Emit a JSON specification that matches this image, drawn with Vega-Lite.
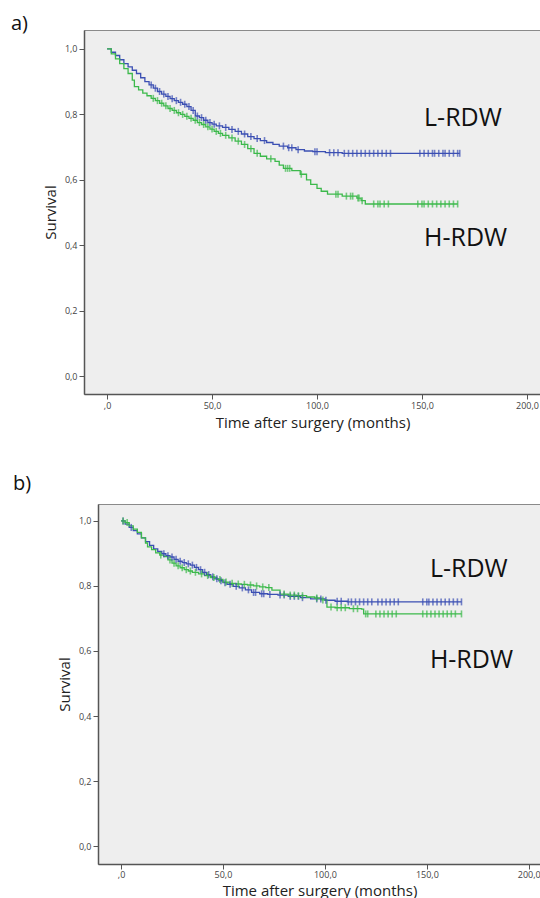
{
 "$schema": "https://vega.github.io/schema/vega-lite/v6.json",
 "padding": {"left": 10, "top": 13, "right": 0, "bottom": 0},
 "background": "white",
 "config": {
  "view": {"fill": "#eeeeee", "stroke": "#8a8a8a", "strokeWidth": 1},
  "font": "Open Sans",
  "axis": {"grid": false, "domainColor": "#555555", "domainWidth": 1.5, "tickColor": "#555555", "tickSize": 5, "labelFontSize": 9, "labelColor": "#444444", "labelFont": "Open Sans", "titleFont": "Open Sans", "titleFontWeight": "normal", "titleFontSize": 15, "titleColor": "#222222", "labelPadding": 2},
  "title": {"fontSize": 20, "fontWeight": "normal", "anchor": "start", "frame": "group", "color": "#111111", "font": "Open Sans"}
 },
 "spacing": 42,
 "datasets": {
  "km": [
   {"p":"a","g":"L-RDW","t":0,"s":1,"c":0},{"p":"a","g":"L-RDW","t":2,"s":0.99,"c":0},{"p":"a","g":"L-RDW","t":4,"s":0.98,"c":0},{"p":"a","g":"L-RDW","t":6,"s":0.967,"c":0},{"p":"a","g":"L-RDW","t":8,"s":0.955,"c":0},{"p":"a","g":"L-RDW","t":10,"s":0.945,"c":0},{"p":"a","g":"L-RDW","t":12,"s":0.935,"c":0},{"p":"a","g":"L-RDW","t":14,"s":0.925,"c":0},{"p":"a","g":"L-RDW","t":16,"s":0.912,"c":0},{"p":"a","g":"L-RDW","t":18,"s":0.9,"c":0},{"p":"a","g":"L-RDW","t":20,"s":0.89,"c":0},{"p":"a","g":"L-RDW","t":21,"s":0.89,"c":1},{"p":"a","g":"L-RDW","t":22,"s":0.88,"c":0},{"p":"a","g":"L-RDW","t":23,"s":0.88,"c":1},{"p":"a","g":"L-RDW","t":24,"s":0.87,"c":0},{"p":"a","g":"L-RDW","t":25,"s":0.87,"c":1},{"p":"a","g":"L-RDW","t":26,"s":0.862,"c":0},{"p":"a","g":"L-RDW","t":27,"s":0.862,"c":1},{"p":"a","g":"L-RDW","t":28,"s":0.855,"c":0},{"p":"a","g":"L-RDW","t":29,"s":0.855,"c":1},{"p":"a","g":"L-RDW","t":30,"s":0.848,"c":0},{"p":"a","g":"L-RDW","t":31,"s":0.848,"c":1},{"p":"a","g":"L-RDW","t":32,"s":0.842,"c":0},{"p":"a","g":"L-RDW","t":33,"s":0.842,"c":1},{"p":"a","g":"L-RDW","t":34,"s":0.837,"c":0},{"p":"a","g":"L-RDW","t":35,"s":0.837,"c":1},{"p":"a","g":"L-RDW","t":36,"s":0.831,"c":0},{"p":"a","g":"L-RDW","t":37,"s":0.831,"c":1},{"p":"a","g":"L-RDW","t":38,"s":0.824,"c":0},{"p":"a","g":"L-RDW","t":39,"s":0.824,"c":1},{"p":"a","g":"L-RDW","t":40,"s":0.812,"c":0},{"p":"a","g":"L-RDW","t":41,"s":0.812,"c":1},{"p":"a","g":"L-RDW","t":42,"s":0.795,"c":0},{"p":"a","g":"L-RDW","t":43,"s":0.795,"c":1},{"p":"a","g":"L-RDW","t":44,"s":0.79,"c":0},{"p":"a","g":"L-RDW","t":45,"s":0.79,"c":1},{"p":"a","g":"L-RDW","t":46,"s":0.782,"c":0},{"p":"a","g":"L-RDW","t":47,"s":0.782,"c":1},{"p":"a","g":"L-RDW","t":48,"s":0.775,"c":0},{"p":"a","g":"L-RDW","t":49,"s":0.775,"c":1},{"p":"a","g":"L-RDW","t":50,"s":0.77,"c":0},{"p":"a","g":"L-RDW","t":51,"s":0.77,"c":1},{"p":"a","g":"L-RDW","t":52,"s":0.765,"c":0},{"p":"a","g":"L-RDW","t":53.5,"s":0.765,"c":1},{"p":"a","g":"L-RDW","t":55,"s":0.76,"c":0},{"p":"a","g":"L-RDW","t":56.5,"s":0.76,"c":1},{"p":"a","g":"L-RDW","t":58,"s":0.754,"c":0},{"p":"a","g":"L-RDW","t":59.5,"s":0.754,"c":1},{"p":"a","g":"L-RDW","t":61,"s":0.748,"c":0},{"p":"a","g":"L-RDW","t":62.5,"s":0.748,"c":1},{"p":"a","g":"L-RDW","t":64,"s":0.74,"c":0},{"p":"a","g":"L-RDW","t":65.5,"s":0.74,"c":1},{"p":"a","g":"L-RDW","t":67,"s":0.732,"c":0},{"p":"a","g":"L-RDW","t":68.5,"s":0.732,"c":1},{"p":"a","g":"L-RDW","t":70,"s":0.726,"c":0},{"p":"a","g":"L-RDW","t":71.5,"s":0.726,"c":1},{"p":"a","g":"L-RDW","t":73,"s":0.72,"c":0},{"p":"a","g":"L-RDW","t":75,"s":0.72,"c":1},{"p":"a","g":"L-RDW","t":76,"s":0.714,"c":0},{"p":"a","g":"L-RDW","t":79,"s":0.708,"c":0},{"p":"a","g":"L-RDW","t":82,"s":0.703,"c":0},{"p":"a","g":"L-RDW","t":84,"s":0.703,"c":1},{"p":"a","g":"L-RDW","t":86,"s":0.698,"c":0},{"p":"a","g":"L-RDW","t":86.5,"s":0.698,"c":1},{"p":"a","g":"L-RDW","t":88,"s":0.698,"c":1},{"p":"a","g":"L-RDW","t":90,"s":0.692,"c":0},{"p":"a","g":"L-RDW","t":91,"s":0.692,"c":1},{"p":"a","g":"L-RDW","t":94,"s":0.688,"c":0},{"p":"a","g":"L-RDW","t":98,"s":0.686,"c":0},{"p":"a","g":"L-RDW","t":99,"s":0.686,"c":1},{"p":"a","g":"L-RDW","t":100,"s":0.686,"c":1},{"p":"a","g":"L-RDW","t":104,"s":0.683,"c":0},{"p":"a","g":"L-RDW","t":106,"s":0.683,"c":1},{"p":"a","g":"L-RDW","t":108,"s":0.683,"c":1},{"p":"a","g":"L-RDW","t":110,"s":0.683,"c":1},{"p":"a","g":"L-RDW","t":112,"s":0.681,"c":0},{"p":"a","g":"L-RDW","t":113,"s":0.681,"c":1},{"p":"a","g":"L-RDW","t":115,"s":0.681,"c":1},{"p":"a","g":"L-RDW","t":117,"s":0.681,"c":1},{"p":"a","g":"L-RDW","t":119,"s":0.681,"c":1},{"p":"a","g":"L-RDW","t":121,"s":0.681,"c":1},{"p":"a","g":"L-RDW","t":123,"s":0.681,"c":1},{"p":"a","g":"L-RDW","t":125,"s":0.681,"c":1},{"p":"a","g":"L-RDW","t":127,"s":0.681,"c":1},{"p":"a","g":"L-RDW","t":129,"s":0.681,"c":1},{"p":"a","g":"L-RDW","t":131,"s":0.681,"c":1},{"p":"a","g":"L-RDW","t":133,"s":0.681,"c":1},{"p":"a","g":"L-RDW","t":135,"s":0.681,"c":1},{"p":"a","g":"L-RDW","t":149,"s":0.681,"c":1},{"p":"a","g":"L-RDW","t":151,"s":0.681,"c":1},{"p":"a","g":"L-RDW","t":153,"s":0.681,"c":1},{"p":"a","g":"L-RDW","t":155,"s":0.681,"c":1},{"p":"a","g":"L-RDW","t":156,"s":0.681,"c":1},{"p":"a","g":"L-RDW","t":158,"s":0.681,"c":1},{"p":"a","g":"L-RDW","t":160,"s":0.681,"c":1},{"p":"a","g":"L-RDW","t":161,"s":0.681,"c":1},{"p":"a","g":"L-RDW","t":163,"s":0.681,"c":1},{"p":"a","g":"L-RDW","t":165,"s":0.681,"c":1},{"p":"a","g":"L-RDW","t":167,"s":0.681,"c":1},{"p":"a","g":"L-RDW","t":168,"s":0.681,"c":1},
   {"p":"a","g":"H-RDW","t":0,"s":1,"c":0},{"p":"a","g":"H-RDW","t":2,"s":0.985,"c":0},{"p":"a","g":"H-RDW","t":4,"s":0.97,"c":0},{"p":"a","g":"H-RDW","t":6,"s":0.955,"c":0},{"p":"a","g":"H-RDW","t":8,"s":0.94,"c":0},{"p":"a","g":"H-RDW","t":10,"s":0.925,"c":0},{"p":"a","g":"H-RDW","t":12,"s":0.905,"c":0},{"p":"a","g":"H-RDW","t":13,"s":0.885,"c":0},{"p":"a","g":"H-RDW","t":15,"s":0.875,"c":0},{"p":"a","g":"H-RDW","t":17,"s":0.865,"c":0},{"p":"a","g":"H-RDW","t":19,"s":0.857,"c":0},{"p":"a","g":"H-RDW","t":21,"s":0.849,"c":0},{"p":"a","g":"H-RDW","t":22,"s":0.849,"c":1},{"p":"a","g":"H-RDW","t":23,"s":0.842,"c":0},{"p":"a","g":"H-RDW","t":24,"s":0.842,"c":1},{"p":"a","g":"H-RDW","t":25,"s":0.834,"c":0},{"p":"a","g":"H-RDW","t":26,"s":0.834,"c":1},{"p":"a","g":"H-RDW","t":27,"s":0.826,"c":0},{"p":"a","g":"H-RDW","t":28,"s":0.826,"c":1},{"p":"a","g":"H-RDW","t":29,"s":0.818,"c":0},{"p":"a","g":"H-RDW","t":30,"s":0.818,"c":1},{"p":"a","g":"H-RDW","t":31,"s":0.812,"c":0},{"p":"a","g":"H-RDW","t":32,"s":0.812,"c":1},{"p":"a","g":"H-RDW","t":33,"s":0.805,"c":0},{"p":"a","g":"H-RDW","t":34,"s":0.805,"c":1},{"p":"a","g":"H-RDW","t":35,"s":0.8,"c":0},{"p":"a","g":"H-RDW","t":36,"s":0.8,"c":1},{"p":"a","g":"H-RDW","t":37,"s":0.794,"c":0},{"p":"a","g":"H-RDW","t":38,"s":0.794,"c":1},{"p":"a","g":"H-RDW","t":39,"s":0.788,"c":0},{"p":"a","g":"H-RDW","t":40,"s":0.788,"c":1},{"p":"a","g":"H-RDW","t":41,"s":0.782,"c":0},{"p":"a","g":"H-RDW","t":42,"s":0.782,"c":1},{"p":"a","g":"H-RDW","t":43,"s":0.775,"c":0},{"p":"a","g":"H-RDW","t":44,"s":0.775,"c":1},{"p":"a","g":"H-RDW","t":45,"s":0.769,"c":0},{"p":"a","g":"H-RDW","t":46,"s":0.769,"c":1},{"p":"a","g":"H-RDW","t":47,"s":0.762,"c":0},{"p":"a","g":"H-RDW","t":48,"s":0.762,"c":1},{"p":"a","g":"H-RDW","t":49,"s":0.755,"c":0},{"p":"a","g":"H-RDW","t":50,"s":0.755,"c":1},{"p":"a","g":"H-RDW","t":51,"s":0.748,"c":0},{"p":"a","g":"H-RDW","t":52,"s":0.748,"c":1},{"p":"a","g":"H-RDW","t":53,"s":0.742,"c":0},{"p":"a","g":"H-RDW","t":54,"s":0.742,"c":1},{"p":"a","g":"H-RDW","t":55,"s":0.736,"c":0},{"p":"a","g":"H-RDW","t":56.5,"s":0.736,"c":1},{"p":"a","g":"H-RDW","t":58,"s":0.728,"c":0},{"p":"a","g":"H-RDW","t":59.5,"s":0.728,"c":1},{"p":"a","g":"H-RDW","t":61,"s":0.718,"c":0},{"p":"a","g":"H-RDW","t":62.5,"s":0.718,"c":1},{"p":"a","g":"H-RDW","t":64,"s":0.708,"c":0},{"p":"a","g":"H-RDW","t":65.5,"s":0.708,"c":1},{"p":"a","g":"H-RDW","t":67,"s":0.695,"c":0},{"p":"a","g":"H-RDW","t":68.5,"s":0.695,"c":1},{"p":"a","g":"H-RDW","t":70,"s":0.681,"c":0},{"p":"a","g":"H-RDW","t":71.5,"s":0.681,"c":1},{"p":"a","g":"H-RDW","t":73,"s":0.672,"c":0},{"p":"a","g":"H-RDW","t":76,"s":0.664,"c":0},{"p":"a","g":"H-RDW","t":78,"s":0.664,"c":1},{"p":"a","g":"H-RDW","t":80,"s":0.656,"c":0},{"p":"a","g":"H-RDW","t":82,"s":0.645,"c":0},{"p":"a","g":"H-RDW","t":84,"s":0.635,"c":0},{"p":"a","g":"H-RDW","t":85,"s":0.635,"c":1},{"p":"a","g":"H-RDW","t":86,"s":0.635,"c":1},{"p":"a","g":"H-RDW","t":87,"s":0.635,"c":1},{"p":"a","g":"H-RDW","t":88,"s":0.628,"c":0},{"p":"a","g":"H-RDW","t":92,"s":0.617,"c":0},{"p":"a","g":"H-RDW","t":92.5,"s":0.617,"c":1},{"p":"a","g":"H-RDW","t":95,"s":0.6,"c":0},{"p":"a","g":"H-RDW","t":97,"s":0.586,"c":0},{"p":"a","g":"H-RDW","t":100,"s":0.574,"c":0},{"p":"a","g":"H-RDW","t":102,"s":0.565,"c":0},{"p":"a","g":"H-RDW","t":105,"s":0.556,"c":0},{"p":"a","g":"H-RDW","t":109,"s":0.556,"c":1},{"p":"a","g":"H-RDW","t":110,"s":0.556,"c":1},{"p":"a","g":"H-RDW","t":112,"s":0.55,"c":0},{"p":"a","g":"H-RDW","t":114,"s":0.55,"c":1},{"p":"a","g":"H-RDW","t":116,"s":0.55,"c":1},{"p":"a","g":"H-RDW","t":117,"s":0.55,"c":1},{"p":"a","g":"H-RDW","t":119,"s":0.544,"c":0},{"p":"a","g":"H-RDW","t":119.5,"s":0.544,"c":1},{"p":"a","g":"H-RDW","t":120,"s":0.544,"c":1},{"p":"a","g":"H-RDW","t":121,"s":0.536,"c":0},{"p":"a","g":"H-RDW","t":121.5,"s":0.536,"c":1},{"p":"a","g":"H-RDW","t":123,"s":0.526,"c":0},{"p":"a","g":"H-RDW","t":127,"s":0.526,"c":1},{"p":"a","g":"H-RDW","t":129,"s":0.526,"c":1},{"p":"a","g":"H-RDW","t":130,"s":0.526,"c":1},{"p":"a","g":"H-RDW","t":132,"s":0.526,"c":1},{"p":"a","g":"H-RDW","t":134,"s":0.526,"c":1},{"p":"a","g":"H-RDW","t":148,"s":0.526,"c":1},{"p":"a","g":"H-RDW","t":150,"s":0.526,"c":1},{"p":"a","g":"H-RDW","t":151,"s":0.526,"c":1},{"p":"a","g":"H-RDW","t":153,"s":0.526,"c":1},{"p":"a","g":"H-RDW","t":155,"s":0.526,"c":1},{"p":"a","g":"H-RDW","t":157,"s":0.526,"c":1},{"p":"a","g":"H-RDW","t":159,"s":0.526,"c":1},{"p":"a","g":"H-RDW","t":161,"s":0.526,"c":1},{"p":"a","g":"H-RDW","t":163,"s":0.526,"c":1},{"p":"a","g":"H-RDW","t":165,"s":0.526,"c":1},{"p":"a","g":"H-RDW","t":167,"s":0.526,"c":1},
   {"p":"b","g":"L-RDW","t":0,"s":1,"c":0},{"p":"b","g":"L-RDW","t":1,"s":1,"c":1},{"p":"b","g":"L-RDW","t":2,"s":0.99,"c":0},{"p":"b","g":"L-RDW","t":4,"s":0.98,"c":0},{"p":"b","g":"L-RDW","t":5,"s":0.98,"c":1},{"p":"b","g":"L-RDW","t":6,"s":0.97,"c":0},{"p":"b","g":"L-RDW","t":8,"s":0.96,"c":0},{"p":"b","g":"L-RDW","t":10,"s":0.948,"c":0},{"p":"b","g":"L-RDW","t":12,"s":0.936,"c":0},{"p":"b","g":"L-RDW","t":14,"s":0.925,"c":0},{"p":"b","g":"L-RDW","t":16,"s":0.914,"c":0},{"p":"b","g":"L-RDW","t":18,"s":0.906,"c":0},{"p":"b","g":"L-RDW","t":20,"s":0.899,"c":0},{"p":"b","g":"L-RDW","t":21,"s":0.899,"c":1},{"p":"b","g":"L-RDW","t":22,"s":0.893,"c":0},{"p":"b","g":"L-RDW","t":23,"s":0.893,"c":1},{"p":"b","g":"L-RDW","t":24,"s":0.889,"c":0},{"p":"b","g":"L-RDW","t":25,"s":0.889,"c":1},{"p":"b","g":"L-RDW","t":26,"s":0.882,"c":0},{"p":"b","g":"L-RDW","t":27,"s":0.882,"c":1},{"p":"b","g":"L-RDW","t":28,"s":0.876,"c":0},{"p":"b","g":"L-RDW","t":29,"s":0.876,"c":1},{"p":"b","g":"L-RDW","t":30,"s":0.872,"c":0},{"p":"b","g":"L-RDW","t":31,"s":0.872,"c":1},{"p":"b","g":"L-RDW","t":32,"s":0.868,"c":0},{"p":"b","g":"L-RDW","t":33,"s":0.868,"c":1},{"p":"b","g":"L-RDW","t":34,"s":0.864,"c":0},{"p":"b","g":"L-RDW","t":35,"s":0.864,"c":1},{"p":"b","g":"L-RDW","t":36,"s":0.857,"c":0},{"p":"b","g":"L-RDW","t":37,"s":0.857,"c":1},{"p":"b","g":"L-RDW","t":38,"s":0.85,"c":0},{"p":"b","g":"L-RDW","t":39,"s":0.85,"c":1},{"p":"b","g":"L-RDW","t":40,"s":0.842,"c":0},{"p":"b","g":"L-RDW","t":41,"s":0.842,"c":1},{"p":"b","g":"L-RDW","t":42,"s":0.835,"c":0},{"p":"b","g":"L-RDW","t":43,"s":0.835,"c":1},{"p":"b","g":"L-RDW","t":44,"s":0.828,"c":0},{"p":"b","g":"L-RDW","t":45,"s":0.828,"c":1},{"p":"b","g":"L-RDW","t":46,"s":0.822,"c":0},{"p":"b","g":"L-RDW","t":47,"s":0.822,"c":1},{"p":"b","g":"L-RDW","t":48,"s":0.816,"c":0},{"p":"b","g":"L-RDW","t":49,"s":0.816,"c":1},{"p":"b","g":"L-RDW","t":50,"s":0.81,"c":0},{"p":"b","g":"L-RDW","t":51,"s":0.81,"c":1},{"p":"b","g":"L-RDW","t":52,"s":0.805,"c":0},{"p":"b","g":"L-RDW","t":53.5,"s":0.805,"c":1},{"p":"b","g":"L-RDW","t":55,"s":0.799,"c":0},{"p":"b","g":"L-RDW","t":56.5,"s":0.799,"c":1},{"p":"b","g":"L-RDW","t":58,"s":0.794,"c":0},{"p":"b","g":"L-RDW","t":59.5,"s":0.794,"c":1},{"p":"b","g":"L-RDW","t":61,"s":0.788,"c":0},{"p":"b","g":"L-RDW","t":62.5,"s":0.788,"c":1},{"p":"b","g":"L-RDW","t":64,"s":0.78,"c":0},{"p":"b","g":"L-RDW","t":65,"s":0.78,"c":1},{"p":"b","g":"L-RDW","t":66,"s":0.78,"c":1},{"p":"b","g":"L-RDW","t":68,"s":0.776,"c":0},{"p":"b","g":"L-RDW","t":69,"s":0.776,"c":1},{"p":"b","g":"L-RDW","t":70,"s":0.776,"c":1},{"p":"b","g":"L-RDW","t":72,"s":0.774,"c":0},{"p":"b","g":"L-RDW","t":73,"s":0.774,"c":1},{"p":"b","g":"L-RDW","t":77,"s":0.772,"c":0},{"p":"b","g":"L-RDW","t":78,"s":0.772,"c":1},{"p":"b","g":"L-RDW","t":80,"s":0.772,"c":1},{"p":"b","g":"L-RDW","t":82,"s":0.768,"c":0},{"p":"b","g":"L-RDW","t":83,"s":0.768,"c":1},{"p":"b","g":"L-RDW","t":85,"s":0.768,"c":1},{"p":"b","g":"L-RDW","t":87,"s":0.768,"c":1},{"p":"b","g":"L-RDW","t":88,"s":0.764,"c":0},{"p":"b","g":"L-RDW","t":89,"s":0.764,"c":1},{"p":"b","g":"L-RDW","t":93,"s":0.76,"c":0},{"p":"b","g":"L-RDW","t":96,"s":0.76,"c":1},{"p":"b","g":"L-RDW","t":98,"s":0.76,"c":1},{"p":"b","g":"L-RDW","t":100,"s":0.756,"c":0},{"p":"b","g":"L-RDW","t":100.5,"s":0.756,"c":1},{"p":"b","g":"L-RDW","t":105,"s":0.753,"c":0},{"p":"b","g":"L-RDW","t":106,"s":0.753,"c":1},{"p":"b","g":"L-RDW","t":108,"s":0.753,"c":1},{"p":"b","g":"L-RDW","t":111,"s":0.751,"c":0},{"p":"b","g":"L-RDW","t":111.5,"s":0.751,"c":1},{"p":"b","g":"L-RDW","t":113,"s":0.751,"c":1},{"p":"b","g":"L-RDW","t":115,"s":0.751,"c":1},{"p":"b","g":"L-RDW","t":117,"s":0.751,"c":1},{"p":"b","g":"L-RDW","t":119,"s":0.751,"c":1},{"p":"b","g":"L-RDW","t":121,"s":0.751,"c":1},{"p":"b","g":"L-RDW","t":123,"s":0.751,"c":1},{"p":"b","g":"L-RDW","t":126,"s":0.751,"c":1},{"p":"b","g":"L-RDW","t":128,"s":0.751,"c":1},{"p":"b","g":"L-RDW","t":130,"s":0.751,"c":1},{"p":"b","g":"L-RDW","t":132,"s":0.751,"c":1},{"p":"b","g":"L-RDW","t":134,"s":0.751,"c":1},{"p":"b","g":"L-RDW","t":136,"s":0.751,"c":1},{"p":"b","g":"L-RDW","t":148,"s":0.751,"c":1},{"p":"b","g":"L-RDW","t":150,"s":0.751,"c":1},{"p":"b","g":"L-RDW","t":151,"s":0.751,"c":1},{"p":"b","g":"L-RDW","t":153,"s":0.751,"c":1},{"p":"b","g":"L-RDW","t":155,"s":0.751,"c":1},{"p":"b","g":"L-RDW","t":157,"s":0.751,"c":1},{"p":"b","g":"L-RDW","t":159,"s":0.751,"c":1},{"p":"b","g":"L-RDW","t":161,"s":0.751,"c":1},{"p":"b","g":"L-RDW","t":163,"s":0.751,"c":1},{"p":"b","g":"L-RDW","t":165,"s":0.751,"c":1},{"p":"b","g":"L-RDW","t":167,"s":0.751,"c":1},
   {"p":"b","g":"H-RDW","t":0,"s":1,"c":0},{"p":"b","g":"H-RDW","t":1,"s":1,"c":1},{"p":"b","g":"H-RDW","t":2,"s":0.995,"c":0},{"p":"b","g":"H-RDW","t":3,"s":0.995,"c":1},{"p":"b","g":"H-RDW","t":4,"s":0.985,"c":0},{"p":"b","g":"H-RDW","t":6,"s":0.975,"c":0},{"p":"b","g":"H-RDW","t":8,"s":0.965,"c":0},{"p":"b","g":"H-RDW","t":10,"s":0.948,"c":0},{"p":"b","g":"H-RDW","t":12,"s":0.932,"c":0},{"p":"b","g":"H-RDW","t":13,"s":0.92,"c":0},{"p":"b","g":"H-RDW","t":15,"s":0.912,"c":0},{"p":"b","g":"H-RDW","t":17,"s":0.902,"c":0},{"p":"b","g":"H-RDW","t":19,"s":0.895,"c":0},{"p":"b","g":"H-RDW","t":19.5,"s":0.895,"c":1},{"p":"b","g":"H-RDW","t":21,"s":0.89,"c":0},{"p":"b","g":"H-RDW","t":23,"s":0.88,"c":0},{"p":"b","g":"H-RDW","t":24,"s":0.88,"c":1},{"p":"b","g":"H-RDW","t":25,"s":0.87,"c":0},{"p":"b","g":"H-RDW","t":26,"s":0.87,"c":1},{"p":"b","g":"H-RDW","t":27,"s":0.862,"c":0},{"p":"b","g":"H-RDW","t":28,"s":0.862,"c":1},{"p":"b","g":"H-RDW","t":29,"s":0.856,"c":0},{"p":"b","g":"H-RDW","t":30,"s":0.856,"c":1},{"p":"b","g":"H-RDW","t":31,"s":0.85,"c":0},{"p":"b","g":"H-RDW","t":32,"s":0.85,"c":1},{"p":"b","g":"H-RDW","t":33,"s":0.846,"c":0},{"p":"b","g":"H-RDW","t":34,"s":0.846,"c":1},{"p":"b","g":"H-RDW","t":35,"s":0.842,"c":0},{"p":"b","g":"H-RDW","t":36.5,"s":0.842,"c":1},{"p":"b","g":"H-RDW","t":38,"s":0.837,"c":0},{"p":"b","g":"H-RDW","t":39.5,"s":0.837,"c":1},{"p":"b","g":"H-RDW","t":41,"s":0.832,"c":0},{"p":"b","g":"H-RDW","t":42.5,"s":0.832,"c":1},{"p":"b","g":"H-RDW","t":44,"s":0.826,"c":0},{"p":"b","g":"H-RDW","t":45.5,"s":0.826,"c":1},{"p":"b","g":"H-RDW","t":47,"s":0.82,"c":0},{"p":"b","g":"H-RDW","t":48.5,"s":0.82,"c":1},{"p":"b","g":"H-RDW","t":50,"s":0.812,"c":0},{"p":"b","g":"H-RDW","t":51.5,"s":0.812,"c":1},{"p":"b","g":"H-RDW","t":53,"s":0.808,"c":0},{"p":"b","g":"H-RDW","t":54.5,"s":0.808,"c":1},{"p":"b","g":"H-RDW","t":56,"s":0.806,"c":0},{"p":"b","g":"H-RDW","t":57.5,"s":0.806,"c":1},{"p":"b","g":"H-RDW","t":59,"s":0.805,"c":0},{"p":"b","g":"H-RDW","t":60.5,"s":0.805,"c":1},{"p":"b","g":"H-RDW","t":62,"s":0.803,"c":0},{"p":"b","g":"H-RDW","t":63.5,"s":0.803,"c":1},{"p":"b","g":"H-RDW","t":65,"s":0.8,"c":0},{"p":"b","g":"H-RDW","t":66.5,"s":0.8,"c":1},{"p":"b","g":"H-RDW","t":68,"s":0.797,"c":0},{"p":"b","g":"H-RDW","t":69.5,"s":0.797,"c":1},{"p":"b","g":"H-RDW","t":71,"s":0.795,"c":0},{"p":"b","g":"H-RDW","t":72.5,"s":0.795,"c":1},{"p":"b","g":"H-RDW","t":74,"s":0.787,"c":0},{"p":"b","g":"H-RDW","t":78,"s":0.775,"c":0},{"p":"b","g":"H-RDW","t":80,"s":0.775,"c":1},{"p":"b","g":"H-RDW","t":82,"s":0.772,"c":0},{"p":"b","g":"H-RDW","t":83,"s":0.772,"c":1},{"p":"b","g":"H-RDW","t":85,"s":0.772,"c":1},{"p":"b","g":"H-RDW","t":86,"s":0.77,"c":0},{"p":"b","g":"H-RDW","t":87,"s":0.77,"c":1},{"p":"b","g":"H-RDW","t":89,"s":0.77,"c":1},{"p":"b","g":"H-RDW","t":91,"s":0.766,"c":0},{"p":"b","g":"H-RDW","t":95,"s":0.763,"c":0},{"p":"b","g":"H-RDW","t":96,"s":0.763,"c":1},{"p":"b","g":"H-RDW","t":98,"s":0.757,"c":0},{"p":"b","g":"H-RDW","t":99,"s":0.757,"c":1},{"p":"b","g":"H-RDW","t":101,"s":0.735,"c":0},{"p":"b","g":"H-RDW","t":103,"s":0.735,"c":1},{"p":"b","g":"H-RDW","t":105,"s":0.733,"c":0},{"p":"b","g":"H-RDW","t":106,"s":0.733,"c":1},{"p":"b","g":"H-RDW","t":108,"s":0.733,"c":1},{"p":"b","g":"H-RDW","t":110,"s":0.733,"c":1},{"p":"b","g":"H-RDW","t":112,"s":0.73,"c":0},{"p":"b","g":"H-RDW","t":114,"s":0.73,"c":1},{"p":"b","g":"H-RDW","t":116,"s":0.73,"c":1},{"p":"b","g":"H-RDW","t":118,"s":0.729,"c":0},{"p":"b","g":"H-RDW","t":119,"s":0.714,"c":0},{"p":"b","g":"H-RDW","t":120,"s":0.714,"c":1},{"p":"b","g":"H-RDW","t":121,"s":0.714,"c":1},{"p":"b","g":"H-RDW","t":125,"s":0.714,"c":1},{"p":"b","g":"H-RDW","t":127,"s":0.714,"c":1},{"p":"b","g":"H-RDW","t":129,"s":0.714,"c":1},{"p":"b","g":"H-RDW","t":131,"s":0.714,"c":1},{"p":"b","g":"H-RDW","t":133,"s":0.714,"c":1},{"p":"b","g":"H-RDW","t":135,"s":0.714,"c":1},{"p":"b","g":"H-RDW","t":148,"s":0.714,"c":1},{"p":"b","g":"H-RDW","t":150,"s":0.714,"c":1},{"p":"b","g":"H-RDW","t":152,"s":0.714,"c":1},{"p":"b","g":"H-RDW","t":154,"s":0.714,"c":1},{"p":"b","g":"H-RDW","t":156,"s":0.714,"c":1},{"p":"b","g":"H-RDW","t":158,"s":0.714,"c":1},{"p":"b","g":"H-RDW","t":160,"s":0.714,"c":1},{"p":"b","g":"H-RDW","t":162,"s":0.714,"c":1},{"p":"b","g":"H-RDW","t":164,"s":0.714,"c":1},{"p":"b","g":"H-RDW","t":167,"s":0.714,"c":1}
  ],
  "labels": [
   {"p":"a","label":"L-RDW","t":151,"s":0.788},
   {"p":"a","label":"H-RDW","t":151,"s":0.421},
   {"p":"b","label":"L-RDW","t":151.5,"s":0.852},
   {"p":"b","label":"H-RDW","t":151.5,"s":0.572}
  ]
 },
 "vconcat": [
  {
   "width": 457, "height": 364,
   "title": {"text": "a)", "dx": -73, "dy": 4, "offset": 0},
   "layer": [
    {
     "data": {"name": "km"},
     "transform": [{"filter": "datum.p == 'a'"}],
     "mark": {"type": "line", "interpolate": "step-after", "strokeWidth": 1.3},
     "encoding": {
      "x": {"field": "t", "type": "quantitative", "scale": {"domain": [-11, 206.7], "nice": false, "zero": false},
            "axis": {"values": [0, 50, 100, 150, 200], "labelExpr": "datum.value == 0 ? ',0' : replace(format(datum.value, '.1f'), '.', ',')", "title": "Time after surgery (months)", "titlePadding": 5}},
      "y": {"field": "s", "type": "quantitative", "scale": {"domain": [-0.055, 1.058], "nice": false, "zero": false},
            "axis": {"values": [0, 0.2, 0.4, 0.6, 0.8, 1.0], "labelExpr": "replace(format(datum.value, '.1f'), '.', ',')", "title": "Survival", "titlePadding": 6}},
      "color": {"field": "g", "type": "nominal", "scale": {"domain": ["L-RDW", "H-RDW"], "range": ["#3b4fb3", "#3cb94b"]}, "legend": null}
     }
    },
    {
     "data": {"name": "km"},
     "transform": [{"filter": "datum.p == 'a' && datum.c == 1"}],
     "mark": {"type": "tick", "orient": "vertical", "size": 7, "thickness": 1.6},
     "encoding": {
      "x": {"field": "t", "type": "quantitative"},
      "y": {"field": "s", "type": "quantitative"},
      "color": {"field": "g", "type": "nominal", "legend": null}
     }
    },
    {
     "data": {"name": "labels"},
     "transform": [{"filter": "datum.p == 'a'"}],
     "mark": {"type": "text", "align": "left", "baseline": "middle", "fontSize": 25, "font": "Open Sans", "color": "#111111"},
     "encoding": {
      "x": {"field": "t", "type": "quantitative"},
      "y": {"field": "s", "type": "quantitative"},
      "text": {"field": "label"}
     }
    }
   ]
  },
  {
   "bounds": "flush",
   "spacing": 13,
   "hconcat": [
    {
     "width": 1, "height": 360,
     "view": {"fill": null, "stroke": null},
     "data": {"name": "labels"},
     "transform": [{"filter": "datum.p == 'none'"}],
     "mark": {"type": "point", "opacity": 0}
    },
    {
     "width": 443, "height": 360,
     "title": {"text": "b)", "dx": -85, "dy": 0, "offset": 10},
     "layer": [
      {
       "data": {"name": "km"},
       "transform": [{"filter": "datum.p == 'b'"}],
       "mark": {"type": "line", "interpolate": "step-after", "strokeWidth": 1.3},
       "encoding": {
        "x": {"field": "t", "type": "quantitative", "scale": {"domain": [-11.3, 206], "nice": false, "zero": false},
              "axis": {"values": [0, 50, 100, 150, 200], "labelExpr": "datum.value == 0 ? ',0' : replace(format(datum.value, '.1f'), '.', ',')", "title": "Time after surgery (months)", "titlePadding": 4, "labelPadding": 1}},
        "y": {"field": "s", "type": "quantitative", "scale": {"domain": [-0.055, 1.052], "nice": false, "zero": false},
              "axis": {"values": [0, 0.2, 0.4, 0.6, 0.8, 1.0], "labelExpr": "replace(format(datum.value, '.1f'), '.', ',')", "title": "Survival", "titlePadding": 6}},
        "color": {"field": "g", "type": "nominal", "scale": {"domain": ["L-RDW", "H-RDW"], "range": ["#3b4fb3", "#3cb94b"]}, "legend": null}
       }
      },
      {
       "data": {"name": "km"},
       "transform": [{"filter": "datum.p == 'b' && datum.c == 1"}],
       "mark": {"type": "tick", "orient": "vertical", "size": 7, "thickness": 1.6},
       "encoding": {
        "x": {"field": "t", "type": "quantitative"},
        "y": {"field": "s", "type": "quantitative"},
        "color": {"field": "g", "type": "nominal", "legend": null}
       }
      },
      {
       "data": {"name": "labels"},
       "transform": [{"filter": "datum.p == 'b'"}],
       "mark": {"type": "text", "align": "left", "baseline": "middle", "fontSize": 25, "font": "Open Sans", "color": "#111111"},
       "encoding": {
        "x": {"field": "t", "type": "quantitative"},
        "y": {"field": "s", "type": "quantitative"},
        "text": {"field": "label"}
       }
      }
     ]
    }
   ]
  }
 ]
}
